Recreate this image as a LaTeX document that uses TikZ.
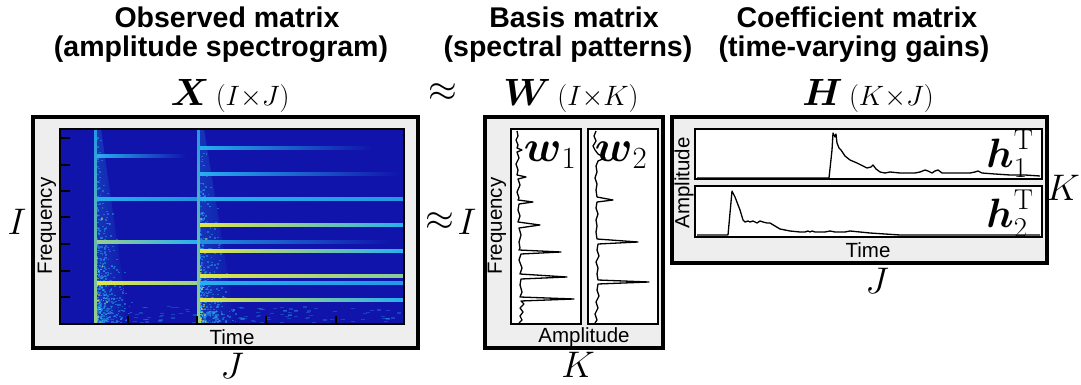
\RequirePackage{fix-cm}
\documentclass[tikz,border=0pt]{standalone}
\usepackage{amsmath,amssymb}
\usepackage{fontspec}
\setsansfont{Liberation Sans}
\definecolor{boxgray}{RGB}{238,238,238}
\definecolor{specbg}{RGB}{16,20,170}
\definecolor{lineC}{RGB}{40,175,240}
\definecolor{lineY}{RGB}{225,230,70}
\begin{document}
\begin{tikzpicture}[x=1pt,y=-1pt,
  title/.style={font=\sffamily\bfseries\fontsize{28.5}{31}\selectfont, inner sep=0},
  axislbl/.style={font=\sffamily\fontsize{20.5}{22}\selectfont, inner sep=0},
  bigmath/.style={font=\fontsize{37}{40}\selectfont, inner sep=0},
  panlbl/.style={font=\fontsize{44}{46}\selectfont, inner sep=0},
  hlbl/.style={font=\fontsize{41}{43}\selectfont, inner sep=0},
  outerbox/.style={draw, line width=3.2, fill=boxgray},
  panel/.style={draw, line width=2.2, fill=white},
  curve/.style={line width=1.3, line join=round},
  tick/.style={line width=2.5}]
\useasboundingbox (0,0) rectangle (1081,385);
% titles
\node[title] (t1a) at (227,17) {Observed matrix};
\node[title] (t1b) at (221,49) {(amplitude spectrogram)};
\node[title] (t2a) at (574,17) {Basis matrix};
\node[title] (t2b) at (568,49) {(spectral patterns)};
\node[title] (t3a) at (857,17) {Coefficient matrix};
\node[title] (t3b) at (854,49) {(time-varying gains)};
% matrix symbols
\node[anchor=base, inner sep=0] (Xlbl) at (230,106) {\fontsize{38}{40}\selectfont$\boldsymbol{X}$\,\fontsize{28}{30}\selectfont$(I{\times}J)$};
\node[bigmath] (approx1) at (443,93) {$\approx$};
\node[anchor=base, inner sep=0] (Wlbl) at (571,106) {\fontsize{38}{40}\selectfont$\boldsymbol{W}$\,\fontsize{28}{30}\selectfont$(I{\times}K)$};
\node[anchor=base, inner sep=0] (Hlbl) at (868,106) {\fontsize{38}{40}\selectfont$\boldsymbol{H}$\,\fontsize{28}{30}\selectfont$(K{\times}J)$};
% ===== X box =====
\draw[outerbox] (33,117) rectangle (418,348);
\fill[specbg] (60,129) rectangle (404,324);
% onsets
\foreach \xo/\tw in {95/34, 198/38}{
  \shade[left color=lineC!22!specbg, right color=specbg] (\xo+2,129) -- (\xo+6,129) -- (\xo+\tw,324) -- (\xo+2,324) -- cycle;
}
\pgfmathsetseed{7}
\foreach \xo in {95,198}{
  \foreach \i in {1,...,420}{
    \pgfmathsetmacro{\yy}{324-195*rnd*rnd}
    \pgfmathsetmacro{\xx}{\xo+1+rnd*rnd*(5+36*(\yy-129)/195)}
    \fill[lineC, opacity=0.45] (\xx,\yy) rectangle ++(1.8,1.5);
  }
  \foreach \i in {1,...,60}{
    \pgfmathsetmacro{\yy}{324-120*rnd*rnd}
    \pgfmathsetmacro{\xx}{\xo+rnd*rnd*12}
    \fill[lineY, opacity=0.5] (\xx,\yy) rectangle ++(1.6,1.5);
  }
}
\foreach \i in {1,...,110}{
  \pgfmathsetmacro{\yy}{306+17*rnd}
  \pgfmathsetmacro{\xx}{100+300*rnd}
  \fill[lineC, opacity=0.3] (\xx,\yy) rectangle ++(4,1.3);
}
% harmonic lines
\foreach \ya/\xa/\xb/\ca/\cb in {
   156/97/186/lineC/specbg,
   199/97/198/lineC/lineC!80!specbg,
   242/97/198/lineY!60!lineC/lineC,
   283/97/198/lineY/lineY!60!lineC,
   283/198/404/lineC/lineC!85!specbg,
   148/200/372/lineC/specbg,
   174/200/400/lineC/specbg,
   199/200/404/lineC/lineC!85!specbg,
   225/200/404/lineY/lineC,
   242/200/392/lineC!80!specbg/specbg,
   251/200/404/lineY/lineC,
   276/200/404/lineY/lineY!50!lineC,
   300/200/404/lineY/lineC}{
  \shade[left color=\ca, right color=\cb] (\xa,\ya-1.4) rectangle (\xb,\ya+1.4);
}
\foreach \xo in {95,198}{
  \shade[top color=lineC!85!specbg, bottom color=lineY!60!lineC] (\xo-1,129) rectangle (\xo+1.5,324);
}
\draw[line width=2.2] (60,129) rectangle (404,324);
\foreach \yt in {138,165,191,217,244,271,297} \draw[tick] (60,\yt) -- (70,\yt);
\foreach \xt in {128,197,266,336} \draw[tick] (\xt,324) -- (\xt,316);
\node[axislbl, rotate=90] (freqX) at (47,226) {Frequency};
\node[axislbl] (timeX) at (232,337) {Time};
\node[bigmath] (Ileft) at (17,222) {$I$};
\node[bigmath] (Jbot) at (232,366) {$J$};
% approx I
\node[bigmath] (approx2) at (440,222) {$\approx$};
\node[bigmath] (Imid) at (467,222) {$I$};
% ===== W box =====
\draw[outerbox] (485,117) rectangle (663,348);
\draw[panel] (511,129) rectangle (581,324);
\draw[panel] (588,129) rectangle (658,324);
\draw[curve] (517,131) -- (518,136) -- (516,140) -- (518,145) -- (517,148) -- (522,150) -- (517,152) -- (519,158) -- (516,164) -- (518,170) -- (517,175) -- (526,177) -- (518,179) -- (520,185) -- (517,192) -- (519,198) -- (518,200) -- (533,202) -- (519,204) -- (518,210) -- (520,216) -- (518,222) -- (540,225) -- (519,228) -- (521,235) -- (519,242) -- (520,248) -- (519,250) -- (561,252) -- (521,254) -- (519,260) -- (522,268) -- (520,274) -- (567,277) -- (521,279) -- (520,285) -- (522,292) -- (520,297) -- (574,299) -- (521,301) -- (524,304) -- (520,308) -- (523,312) -- (520,316) -- (522,320) -- (519,323);
\draw[curve] (596,131) -- (594,136) -- (596,141) -- (593,146) -- (595,150) -- (598,154) -- (605,158) -- (598,161) -- (596,166) -- (597,172) -- (595,178) -- (597,184) -- (596,190) -- (597,197) -- (613,200) -- (597,202) -- (596,208) -- (598,214) -- (596,220) -- (597,226) -- (596,232) -- (597,239) -- (638,242) -- (598,244) -- (597,250) -- (599,256) -- (596,262) -- (598,268) -- (597,274) -- (598,280) -- (649,282) -- (598,284) -- (597,290) -- (599,296) -- (596,302) -- (598,308) -- (595,314) -- (597,320) -- (595,323);
\node[panlbl] (w1) at (550,155) {$\boldsymbol{w}_1$};
\node[panlbl] (w2) at (621,155) {$\boldsymbol{w}_2$};
\node[axislbl, rotate=90] (freqW) at (497,226) {Frequency};
\node[axislbl] (ampW) at (584,337) {Amplitude};
\node[bigmath] (Kbot) at (578,365) {$K$};
% ===== H box =====
\draw[outerbox] (672,117) rectangle (1047,263);
\draw[panel] (695,129) rectangle (1042,179);
\draw[panel] (695,186) rectangle (1042,237);
\draw[curve] (697,178) -- (829,178) -- (832,150) -- (833,133) -- (835,137) -- (836,134) -- (837,143) -- (839,148) -- (841,150) -- (845,156) -- (850,160) -- (857,163) -- (863,166) -- (867,168) -- (871,167) -- (873,165) -- (876,169) -- (880,172) -- (885,173) -- (890,172) -- (900,173) -- (915,173) -- (920,172) -- (925,170) -- (928,171) -- (932,173) -- (935,171) -- (938,170) -- (942,173) -- (950,173) -- (970,173) -- (975,172) -- (978,171) -- (982,173) -- (995,174) -- (1010,175) -- (1025,175) -- (1040,176);
\draw[curve] (697,235) -- (728,235) -- (732,191) -- (735,197) -- (740,210) -- (743,220) -- (745,222) -- (748,221) -- (750,222) -- (753,221) -- (757,223) -- (760,221) -- (763,222) -- (767,223) -- (770,223) -- (775,226) -- (780,229) -- (785,230) -- (790,231) -- (800,232) -- (805,232) -- (808,231) -- (810,232) -- (812,231) -- (815,232) -- (825,232) -- (830,231) -- (835,232) -- (845,232) -- (850,231) -- (860,232) -- (870,233) -- (885,234) -- (900,235) -- (1040,235);
\node[hlbl] (h1) at (1010,154) {$\boldsymbol{h}_1^{\mathrm{T}}$};
\node[hlbl] (h2) at (1010,214) {$\boldsymbol{h}_2^{\mathrm{T}}$};
\node[axislbl, rotate=90] (ampH) at (684,183) {Amplitude};
\node[axislbl] (timeH) at (868,250) {Time};
\node[bigmath] (Kright) at (1063,188) {$K$};
\node[bigmath] (Jright) at (877,281) {$J$};
\end{tikzpicture}
\end{document}
